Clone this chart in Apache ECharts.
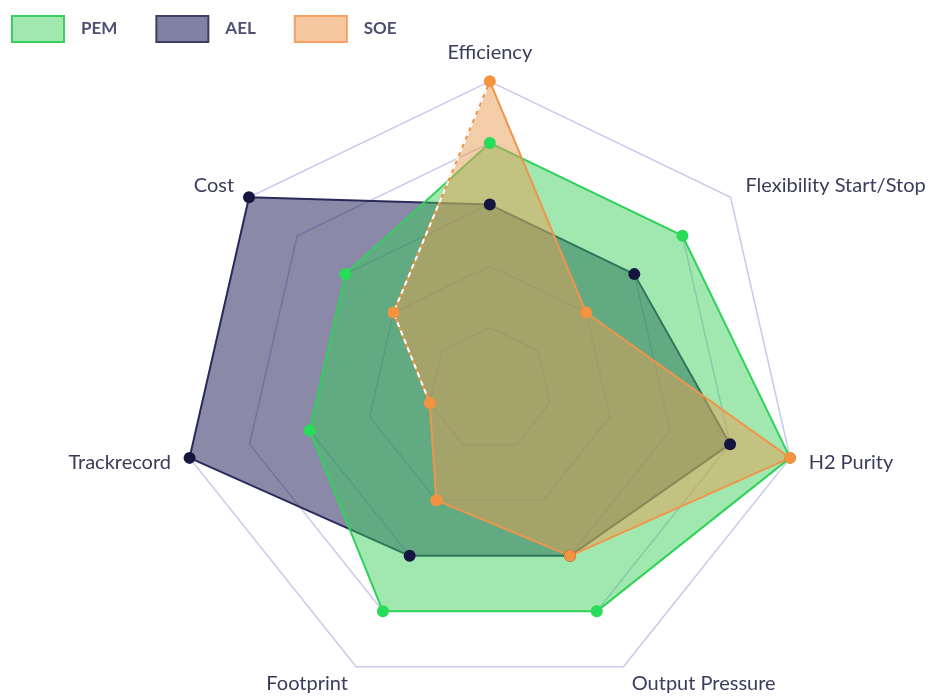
<!DOCTYPE html>
<html>
<head>
<meta charset="utf-8">
<script src="https://cdn.jsdelivr.net/npm/echarts@6/dist/echarts.min.js"></script>
<style>
  html, body { margin: 0; padding: 0; background: #ffffff; }
  #chart { width: 933px; height: 699px; }
</style>
</head>
<body>
<div id="chart"></div>
<script>
// Indicators in the order ECharts lays them out (counter-clockwise from the top)
const indicators = ['Efficiency', 'Cost', 'Trackrecord', 'Footprint', 'Output Pressure', 'H2 Purity', 'Flexibility Start/Stop'];
const maxScore = 5;

const seriesNames = ['PEM', 'AEL', 'SOE'];
const pemScores = [4, 3, 3, 4, 4, 5, 4];
const aelScores = [3, 5, 5, 3, 3, 4, 3];
const soeScores = [5, 2, 1, 2, 3, 5, 2];

// SOE edges drawn with a dashed white overlay (Efficiency -> Cost -> Trackrecord)
const soeDashedEdge = [soeScores[0], soeScores[1], soeScores[2], '-', '-', '-', '-'];

const palette = {
  PEM: { line: '#2fd35c', area: 'rgba(53, 206, 87, 0.47)', dot: '#26dc58', legendFill: '#a0e8b0', legendBorder: '#3ad060' },
  AEL: { line: '#2a2b5a', area: 'rgba(42, 42, 97, 0.55)', dot: '#15163f', legendFill: '#8081a3', legendBorder: '#3e3f66' },
  SOE: { line: '#f2944a', area: 'rgba(230, 155, 82, 0.5)', dot: '#f5923f', legendFill: '#f8c8a0', legendBorder: '#f4a062' }
};

const scores = { PEM: pemScores, AEL: aelScores, SOE: soeScores };

const center = ['52.5%', '55.7%'];
const radius = 308;

const chart = echarts.init(document.getElementById('chart'), null, { renderer: 'canvas' });

// Filled polygon with its outline, no markers
function areaSeries(name) {
  const c = palette[name];
  return {
    type: 'radar',
    name: name,
    symbol: 'none',
    z: 2,
    data: [{ name: name, value: scores[name] }],
    itemStyle: { color: c.dot },
    lineStyle: { color: c.line, width: 2 },
    areaStyle: { color: c.area, opacity: 1 }
  };
}

// Markers only, kept above every filled polygon
function dotSeries(name) {
  const c = palette[name];
  return {
    type: 'radar',
    name: name,
    symbol: 'circle',
    symbolSize: 12,
    z: 4,
    data: [{ name: name, value: scores[name] }],
    itemStyle: { color: c.dot },
    lineStyle: { opacity: 0, width: 0 }
  };
}

chart.setOption({
  backgroundColor: '#ffffff',
  animation: false,
  legend: {
    left: 6,
    top: 10,
    itemWidth: 52,
    itemHeight: 26,
    itemGap: 38,
    icon: 'rect',
    textStyle: { color: '#4f4f70', fontFamily: 'Lato', fontWeight: 'bold', fontSize: 17, padding: [0, 0, 0, 12] },
    data: seriesNames.map(function (n) {
      return {
        name: n,
        itemStyle: { color: palette[n].legendFill, borderColor: palette[n].legendBorder, borderWidth: 2 }
      };
    })
  },
  radar: {
    center: center,
    radius: radius,
    startAngle: 90,
    splitNumber: 5,
    shape: 'polygon',
    indicator: indicators.map(function (n) { return { name: n, max: maxScore, min: 0 }; }),
    axisName: { color: '#3b3b5c', fontFamily: 'Lato', fontSize: 20 },
    nameGap: 19,
    axisLine: { show: false },
    axisTick: { show: false },
    splitArea: { show: false },
    splitLine: { lineStyle: { color: '#c9c9ec', width: 1.5 } }
  },
  polar: { center: center, radius: radius },
  angleAxis: {
    type: 'category',
    data: indicators,
    startAngle: 90,
    clockwise: false,
    boundaryGap: false,
    show: false
  },
  radiusAxis: { type: 'value', min: 0, max: maxScore, show: false },
  series: [
    areaSeries('AEL'),
    areaSeries('PEM'),
    areaSeries('SOE'),
    {
      type: 'line',
      coordinateSystem: 'polar',
      data: soeDashedEdge,
      symbol: 'none',
      silent: true,
      z: 3,
      lineStyle: { color: '#ffffff', width: 2, type: [5, 4] }
    },
    dotSeries('PEM'),
    dotSeries('AEL'),
    dotSeries('SOE')
  ]
});
</script>
</body>
</html>
